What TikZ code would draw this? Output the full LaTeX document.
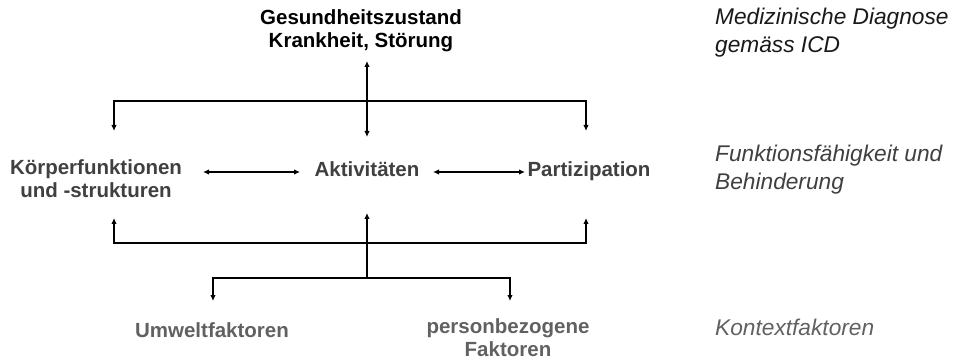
\documentclass[tikz,border=0pt]{standalone}
\usepackage{fontspec}
\setmainfont{Liberation Sans}
\usetikzlibrary{arrows.meta}

\definecolor{dunkel}{gray}{0.25}
\definecolor{mittel}{gray}{0.38}

\begin{document}
\begin{tikzpicture}[x=1pt,y=-1pt,
    linie/.style={line width=1.6pt},
    pfeil/.style={linie,-{Latex[length=6pt,width=5.5pt]}},
    doppel/.style={linie,{Latex[length=6pt,width=5.5pt]}-{Latex[length=6pt,width=5.5pt]}},
    haupt/.style={font=\bfseries\fontsize{20.5}{23}\selectfont,align=center,inner sep=0pt,anchor=base},
    rand/.style={font=\itshape\fontsize{22.7}{28}\selectfont,align=left,inner sep=0pt,anchor=base west}]

\useasboundingbox (0,0) rectangle (955,363);

\node[haupt] (gz) at (361,48) {Gesundheitszustand\\Krankheit, Störung};
\node[haupt,dunkel] (koerper) at (96,198) {Körperfunktionen\\und -strukturen};
\node[haupt,dunkel] (akt) at (367,177) {Aktivitäten};
\node[haupt,dunkel] (part) at (589,177) {Partizipation};
\node[haupt,mittel] (umwelt) at (212,337) {Umweltfaktoren};
\node[haupt,mittel] (person) at (508,356) {personbezogene\\Faktoren};

\node[rand,black!90] (diag) at (715,53) {Medizinische Diagnose\\gemäss ICD};
\node[rand,dunkel] (funk) at (715,190) {Funktionsfähigkeit und\\Behinderung};
\node[rand,mittel] (kontext) at (715,335) {Kontextfaktoren};

\coordinate (gzUnten) at (367,61);
\coordinate (aktOben) at (367,137);
\coordinate (bogenOL) at (114,101);
\coordinate (bogenOR) at (586,101);
\coordinate (koerperOben) at (114,131);
\coordinate (partOben) at (586,131);

\coordinate (koerperRechts) at (203,172);
\coordinate (aktLinks) at (300,172);
\coordinate (aktRechts) at (433,172);
\coordinate (partLinks) at (525,172);

\coordinate (bogenUL) at (114,243);
\coordinate (bogenUR) at (586,243);
\coordinate (koerperUnten) at (114,218);
\coordinate (partUnten) at (586,218);
\coordinate (aktUnten) at (367,213);
\coordinate (kontextMitte) at (367,278);
\coordinate (kontextL) at (213,278);
\coordinate (kontextR) at (510,278);
\coordinate (umweltOben) at (213,301);
\coordinate (personOben) at (510,301);

\draw[doppel] (gzUnten) -- (aktOben);
\draw[doppel] (koerperOben) -- (bogenOL) -- (bogenOR) -- (partOben);

\foreach \a/\b in {koerperRechts/aktLinks,aktRechts/partLinks}
    \draw[doppel] (\a) -- (\b);

\draw[doppel] (koerperUnten) -- (bogenUL) -- (bogenUR) -- (partUnten);
\draw[pfeil] (kontextMitte) -- (aktUnten);
\draw[doppel] (umweltOben) -- (kontextL) -- (kontextR) -- (personOben);

\end{tikzpicture}
\end{document}
